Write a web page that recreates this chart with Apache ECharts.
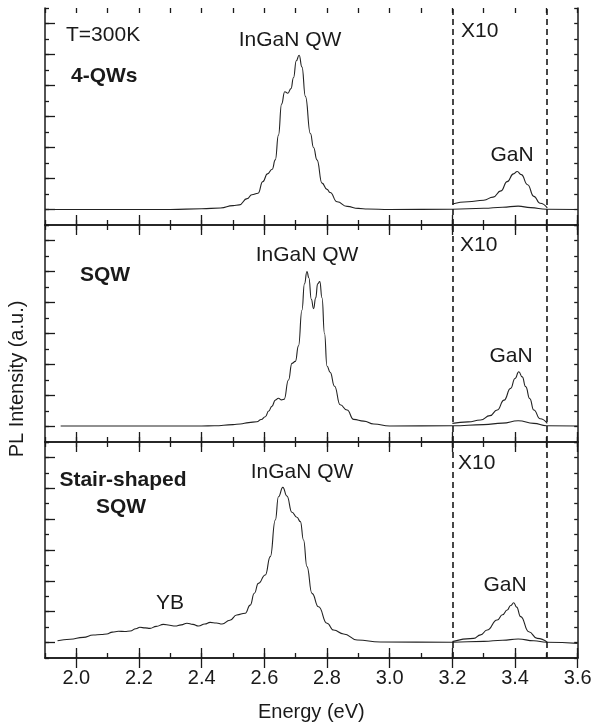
<!DOCTYPE html>
<html><head><meta charset="utf-8">
<script src="https://cdn.jsdelivr.net/npm/echarts@6/dist/echarts.min.js"></script>
<style>html,body{margin:0;padding:0;background:#fff}#c{width:595px;height:725px}</style>
</head><body><div id="c"></div>
<script>
// ---- tick values ----
const xTickMajor = [2.0, 2.2, 2.4, 2.6, 2.8, 3.0, 3.2, 3.4, 3.6];
const xTickMinor = [1.9, 2.0, 2.1, 2.2, 2.3, 2.4, 2.5, 2.6, 2.7, 2.8, 2.9, 3.0, 3.1, 3.2, 3.3, 3.4, 3.5, 3.6];
const yTickMajor = [1, 3, 5, 7, 9, 11, 13];
const yTickMinor = [0, 1, 2, 3, 4, 5, 6, 7, 8, 9, 10, 11, 12, 13, 14];
const x10Bounds = [3.2, 3.5];

// ---- panel 1: 4-QWs ----
const qw4E = [1.90, 2.30, 2.40, 2.46, 2.50, 2.52, 2.545, 2.56, 2.58, 2.595, 2.61, 2.625, 2.635, 2.645, 2.655, 2.665, 2.675, 2.685, 2.693, 2.702, 2.711, 2.72, 2.731, 2.747, 2.757, 2.768, 2.784, 2.80, 2.81, 2.832, 2.864, 2.90, 2.93, 3.00, 3.20, 3.30, 3.36, 3.41, 3.45, 3.50, 3.60];
const qw4I = [1.00, 1.00, 1.05, 1.10, 1.25, 1.30, 1.70, 1.95, 2.05, 2.80, 3.30, 3.60, 4.20, 5.80, 7.80, 8.60, 8.50, 8.80, 9.50, 10.60, 10.95, 10.20, 8.30, 5.90, 5.00, 4.20, 2.70, 2.30, 2.10, 1.50, 1.20, 1.07, 1.03, 1.00, 1.02, 1.08, 1.15, 1.22, 1.12, 1.02, 1.00];
const qw4GaNE = [3.20, 3.25, 3.30, 3.33, 3.355, 3.375, 3.395, 3.407, 3.42, 3.44, 3.46, 3.48, 3.503];
const qw4GaNI = [1.35, 1.50, 1.60, 1.80, 2.20, 2.80, 3.30, 3.45, 3.25, 2.60, 1.85, 1.40, 1.10];

// ---- panel 2: SQW ----
const sqwE = [1.95, 2.40, 2.44, 2.50, 2.523, 2.55, 2.576, 2.59, 2.603, 2.614, 2.624, 2.635, 2.645, 2.655, 2.663, 2.677, 2.688, 2.699, 2.709, 2.72, 2.728, 2.736, 2.742, 2.75, 2.757, 2.764, 2.77, 2.777, 2.784, 2.792, 2.80, 2.81, 2.824, 2.842, 2.864, 2.885, 2.917, 2.949, 3.00, 3.20, 3.30, 3.36, 3.41, 3.46, 3.50, 3.60];
const sqwI = [1.03, 1.03, 1.05, 1.12, 1.16, 1.25, 1.31, 1.45, 1.63, 2.00, 2.30, 2.70, 2.82, 2.72, 2.75, 4.00, 5.07, 5.20, 6.20, 8.50, 10.20, 11.00, 10.60, 9.20, 8.60, 9.30, 10.20, 10.35, 9.30, 7.00, 4.90, 4.50, 3.60, 2.40, 2.06, 1.46, 1.35, 1.16, 1.03, 1.05, 1.12, 1.22, 1.37, 1.20, 1.05, 1.03];
const sqwGaNE = [3.20, 3.25, 3.29, 3.32, 3.343, 3.365, 3.386, 3.40, 3.412, 3.423, 3.434, 3.447, 3.46, 3.48, 3.503];
const sqwGaNI = [1.20, 1.30, 1.42, 1.70, 2.06, 2.70, 3.46, 4.10, 4.53, 4.20, 3.57, 2.80, 2.06, 1.50, 1.20];

// ---- panel 3: Stair-shaped SQW ----
const stairE = [1.94, 1.98, 2.022, 2.054, 2.08, 2.097, 2.115, 2.134, 2.155, 2.172, 2.19, 2.203, 2.22, 2.235, 2.255, 2.278, 2.298, 2.315, 2.335, 2.353, 2.372, 2.39, 2.41, 2.427, 2.447, 2.465, 2.49, 2.512, 2.539, 2.555, 2.568, 2.581, 2.603, 2.619, 2.635, 2.645, 2.659, 2.672, 2.688, 2.704, 2.715, 2.725, 2.736, 2.752, 2.773, 2.80, 2.821, 2.853, 2.896, 2.97, 3.20, 3.30, 3.36, 3.41, 3.46, 3.50, 3.60];
const stairI = [1.12, 1.22, 1.34, 1.49, 1.52, 1.56, 1.68, 1.73, 1.72, 1.75, 1.90, 1.99, 1.95, 1.92, 2.05, 2.18, 2.12, 2.07, 2.15, 2.25, 2.18, 2.07, 2.20, 2.31, 2.27, 2.20, 2.45, 2.79, 2.90, 3.43, 4.20, 4.84, 5.38, 6.57, 8.94, 10.45, 11.06, 10.50, 9.45, 9.12, 8.84, 7.65, 5.92, 4.19, 3.32, 2.25, 1.81, 1.56, 1.17, 1.04, 1.02, 1.08, 1.15, 1.23, 1.12, 1.02, 0.95];
const stairGaNE = [3.20, 3.268, 3.29, 3.311, 3.343, 3.36, 3.375, 3.386, 3.396, 3.405, 3.418, 3.444, 3.471, 3.503];
const stairGaNI = [1.06, 1.27, 1.50, 1.81, 2.46, 2.80, 3.11, 3.40, 3.58, 3.30, 2.68, 1.70, 1.27, 1.02];

const panels = [
  { main: [qw4E, qw4I], x10: [qw4GaNE, qw4GaNI] },
  { main: [sqwE, sqwI], x10: [sqwGaNE, sqwGaNI] },
  { main: [stairE, stairI], x10: [stairGaNE, stairGaNI] }
];

const zip = (a, b) => a.map((x, i) => [x, b[i]]);
const FONT = '"Liberation Sans", Arial, Helvetica, sans-serif';
const INK = '#1a1a1a';

const gridBoxes = [
  { top: 8, height: 217 },
  { top: 225, height: 217 },
  { top: 442, height: 216 }
];
const grids = gridBoxes.map(b => ({ left: 45, width: 532.7, top: b.top, height: b.height, containLabel: false }));

const xAxes = [], yAxes = [], series = [];
panels.forEach((p, g) => {
  const isLast = g === panels.length - 1;
  const baseX = {
    type: 'value', gridIndex: g, min: 1.9, max: 3.6,
    splitLine: { show: false },
    axisLine: { show: true, lineStyle: { color: INK, width: 1.5 } },
    axisLabel: { show: false }
  };
  const tick = (vals, len) => ({ show: true, inside: true, length: len, customValues: vals, lineStyle: { color: INK, width: 1.3 } });
  xAxes.push(Object.assign({}, baseX, {
    position: 'bottom', axisTick: tick(xTickMajor, 10),
    axisLabel: isLast ? { show: true, customValues: xTickMajor, formatter: v => v.toFixed(1), fontSize: 20, fontFamily: FONT, color: INK, margin: 10 } : { show: false },
    name: isLast ? 'Energy (eV)' : '', nameLocation: 'middle', nameGap: 44,
    nameTextStyle: { fontSize: 20, fontFamily: FONT, color: INK }
  }));
  xAxes.push(Object.assign({}, baseX, { position: 'bottom', axisLine: { show: false }, axisTick: tick(xTickMinor, 5) }));
  xAxes.push(Object.assign({}, baseX, { position: 'top', axisTick: tick(xTickMajor, 10) }));
  xAxes.push(Object.assign({}, baseX, { position: 'top', axisLine: { show: false }, axisTick: tick(xTickMinor, 5) }));

  const baseY = {
    type: 'value', gridIndex: g, min: 0, max: 14,
    splitLine: { show: false }, axisLabel: { show: false },
    axisLine: { show: true, lineStyle: { color: INK, width: 1.5 } }
  };
  yAxes.push(Object.assign({}, baseY, { position: 'left', axisTick: tick(yTickMajor, 10) }));
  yAxes.push(Object.assign({}, baseY, { position: 'left', axisLine: { show: false }, axisTick: tick(yTickMinor, 4) }));
  yAxes.push(Object.assign({}, baseY, { position: 'right', axisTick: tick(yTickMinor, 3.5) }));

  const lineStyle = { color: '#222', width: 1.1 };
  series.push({
    type: 'line', xAxisIndex: g * 4, yAxisIndex: g * 3,
    data: zip(p.main[0], p.main[1]), showSymbol: false, smooth: 0.5, smoothMonotone: 'x',
    lineStyle, silent: true,
    markLine: {
      silent: true, symbol: ['none', 'none'], label: { show: false },
      lineStyle: { color: INK, width: 1.6, type: [6, 4] },
      data: x10Bounds.map(v => ({ xAxis: v }))
    }
  });
  series.push({
    type: 'line', xAxisIndex: g * 4, yAxisIndex: g * 3,
    data: zip(p.x10[0], p.x10[1]), showSymbol: false, smooth: 0.5, smoothMonotone: 'x',
    lineStyle, silent: true
  });
});

const txt = (text, x, y, opt) => ({
  type: 'text', x, y, silent: true,
  style: Object.assign({ text, fontSize: 21, fontFamily: FONT, fill: INK, textAlign: 'left', textVerticalAlign: 'middle' }, opt || {})
});

const graphic = [
  txt('T=300K', 66, 35),
  txt('4-QWs', 71, 76, { fontWeight: 'bold' }),
  txt('InGaN QW', 290, 40, { textAlign: 'center' }),
  txt('X10', 461, 31),
  txt('GaN', 512, 155, { textAlign: 'center' }),
  txt('SQW', 80, 275, { fontWeight: 'bold' }),
  txt('InGaN QW', 307, 255, { textAlign: 'center' }),
  txt('X10', 460, 245),
  txt('GaN', 511, 356, { textAlign: 'center' }),
  txt('Stair-shaped', 123, 480, { fontWeight: 'bold', textAlign: 'center' }),
  txt('SQW', 121, 507, { fontWeight: 'bold', textAlign: 'center' }),
  txt('InGaN QW', 302, 472, { textAlign: 'center' }),
  txt('X10', 458, 463),
  txt('GaN', 505, 585, { textAlign: 'center' }),
  txt('YB', 170, 603, { textAlign: 'center' }),
  { type: 'text', x: 17, y: 379, rotation: Math.PI / 2, silent: true,
    style: { text: 'PL Intensity (a.u.)', fontSize: 20, fontFamily: FONT, fill: INK, textAlign: 'center', textVerticalAlign: 'middle' } }
];

const chart = echarts.init(document.getElementById('c'), null, { renderer: 'canvas' });
chart.setOption({
  animation: false,
  backgroundColor: '#fff',
  grid: grids,
  xAxis: xAxes,
  yAxis: yAxes,
  series,
  graphic
});
</script>
</body></html>
